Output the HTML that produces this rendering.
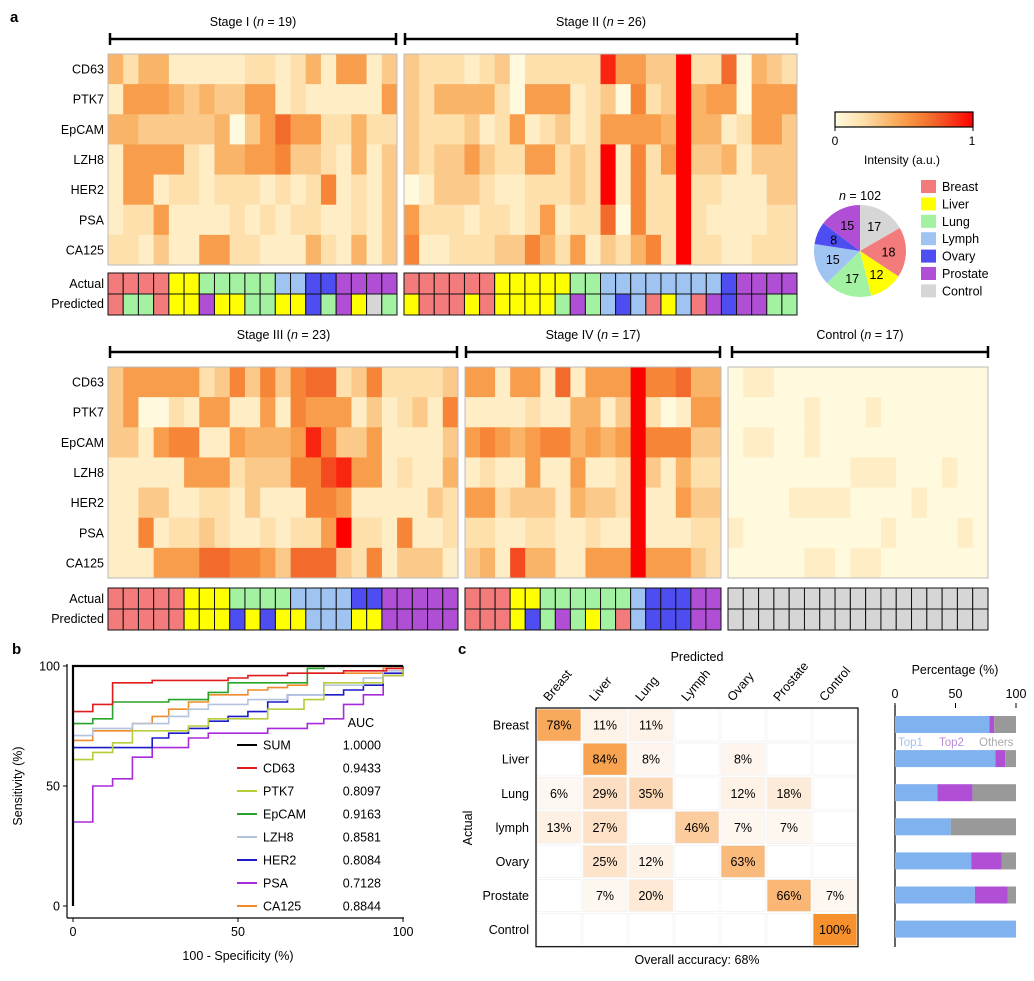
<!DOCTYPE html>
<html><head><meta charset="utf-8"><style>
body{margin:0;background:#fff}
svg{display:block;font-family:"Liberation Sans",Arial,sans-serif}
</style></head><body>
<svg id="fig" width="1034" height="981" viewBox="0 0 1034 981" xmlns="http://www.w3.org/2000/svg">
<text x="10" y="22" font-size="15" font-weight="bold">a</text>
<text x="12" y="654" font-size="15" font-weight="bold">b</text>
<text x="458" y="654" font-size="15" font-weight="bold">c</text>
<g id="gA"></g><g id="gB"></g><g id="gC"></g>
</svg>
<script>
// ---------- Panel a data ----------
const markers = ["CD63","PTK7","EpCAM","LZH8","HER2","PSA","CA125"];
const stage1 = [
[4,2,4,4,1,1,1,1,1,2,2,1,2,4,1,5,5,1,3],
[1,5,5,5,4,3,4,3,3,5,5,1,2,1,1,1,1,1,5],
[4,4,3,3,3,3,3,4,0,3,5,7,5,5,2,2,4,2,2],
[1,5,5,5,5,2,1,4,4,5,5,6,3,3,2,1,4,1,3],
[1,5,5,1,2,2,1,2,2,2,1,2,1,2,6,1,2,1,3],
[1,2,2,5,1,1,1,1,2,1,2,1,2,2,1,1,2,1,3],
[2,2,1,3,1,1,5,5,2,2,1,1,1,4,2,1,4,1,3]];
const stage2 = [
[3,2,2,2,1,2,3,0,2,2,2,2,2,9,5,5,3,3,10,2,2,7,0,4,3,2],
[3,2,4,4,4,4,2,0,5,5,5,1,2,3,0,6,2,3,10,4,5,5,0,5,5,5],
[3,2,2,2,3,1,2,5,1,2,3,1,2,5,5,5,5,4,10,4,4,1,2,5,5,3],
[3,2,3,3,5,3,2,2,5,5,2,3,2,10,1,6,2,5,10,3,3,4,1,3,3,3],
[0,1,3,3,3,2,1,1,2,2,2,3,2,10,1,6,2,2,10,2,2,1,1,1,3,3],
[5,2,2,2,1,2,2,1,2,5,1,2,2,7,0,6,2,2,10,2,1,1,1,1,2,2],
[6,1,1,2,2,2,3,3,6,4,2,5,1,3,2,4,6,2,10,2,2,1,1,2,2,2]];
const stage3 = [
[3,5,5,5,5,5,2,3,6,3,6,3,6,7,7,2,3,6,2,2,2,2,3],
[3,5,0,0,2,1,5,5,1,1,5,1,6,5,5,5,1,3,1,2,3,1,6],
[3,3,1,5,6,6,1,1,5,4,4,4,5,9,6,3,3,5,1,1,1,1,3],
[1,1,1,1,1,5,5,5,2,3,3,3,6,6,8,9,5,5,1,2,1,1,4],
[1,1,3,3,1,1,2,2,1,3,1,1,1,6,6,5,1,1,1,1,1,3,2],
[1,1,6,1,2,2,3,2,1,1,2,1,2,2,5,10,2,2,1,6,1,1,2],
[1,1,1,5,5,5,7,7,6,6,5,3,7,7,7,3,2,6,1,3,3,3,1]];
const stage4 = [
[5,5,1,5,5,1,7,1,5,5,5,10,6,6,7,4,4],
[1,1,1,1,2,1,1,4,4,1,3,10,2,0,1,5,5],
[5,6,5,4,5,6,6,4,5,4,5,10,6,6,6,3,3],
[1,2,1,1,5,1,1,5,1,1,2,10,3,1,4,2,2],
[5,5,2,3,3,3,1,4,3,3,2,10,1,1,5,3,3],
[2,2,1,1,2,2,1,1,2,1,1,10,1,1,1,2,2],
[3,4,1,8,4,4,1,1,5,5,5,10,5,5,5,3,2]];
const control = [
[0,1,1,0,0,0,0,0,0,0,0,0,0,0,0,0,0],
[0,0,0,0,0,1,0,0,0,1,0,0,0,0,0,0,0],
[0,1,1,0,0,1,0,0,0,0,0,0,0,0,0,0,0],
[0,0,0,0,0,0,0,0,1,1,1,0,0,0,1,0,0],
[0,0,0,0,1,1,1,1,0,0,0,0,1,0,0,0,0],
[1,0,0,0,0,0,0,0,0,0,1,0,0,0,0,1,0],
[0,0,0,0,0,1,1,0,1,1,0,0,0,0,0,0,0]];
const actual1 = "BBBBVVLLLLLYYOOPPPP", pred1 = "BLLBVVPVVLLVVOLPVCL";
const actual2 = "BBBBBBVVVVVLLYYYYYYYYOPPPP", pred2 = "VBBBVBVVVVLPLYOYBVYBPOPPLL";
const actual3 = "BBBBBVVVLLLLYYYYOOPPPPP", pred3 = "BBBBBVVVOVOVVYYYVVPPPPP";
const actual4 = "BBBVVLLLLLLYOOOPP", pred4 = "BBBVOLPLVLBYOOOPP";
const actualC = "CCCCCCCCCCCCCCCCC", predC = "CCCCCCCCCCCCCCCCC";
const classNames = ["Breast","Liver","Lung","Lymph","Ovary","Prostate","Control"];
const classCodes = ["B","V","L","Y","O","P","C"];
const classColors = ["#f37b7b","#ffff00","#a2f2a2","#a0c4f2","#4d4df2","#b04fd6","#d6d6d6"];
const pieCounts = [17,18,12,17,15,8,15];
const pieOrder = [6,0,1,2,3,4,5];
// ---------- Panel b data ----------
const rocNames = ["SUM","CD63","PTK7","EpCAM","LZH8","HER2","PSA","CA125"];
const rocAUC = ["1.0000","0.9433","0.8097","0.9163","0.8581","0.8084","0.7128","0.8844"];
const rocColors = ["#000000","#e01b1b","#b7cc3a","#2aa32a","#b3c3dc","#1b1bc8","#a72bdc","#f08a2a"];
const rocFPR = [
[0,0,100],
[0,6,12,24,47,53,65,82,95,100],
[0,6,12,18,35,41,59,70,76,94,100],
[0,6,12,29,41,47,71,76,100],
[0,6,18,29,35,41,53,65,76,88,94,100],
[0,24,29,35,41,47,53,59,65,82,88,94,100],
[0,6,12,18,24,35,41,59,71,76,82,88,94,100],
[0,6,18,24,29,35,41,53,59,65,71,94,100]];
const rocTPR = [
[0,100,100],
[81,84,93,94,95,96,97,98,99,100],
[61,64,68,73,75,78,82,86,93,96,100],
[76,78,85,86,89,93,99,100,100],
[71,74,76,79,82,84,86,88,92,95,98,100],
[66,70,72,74,77,79,81,85,88,90,92,97,100],
[35,50,53,62,66,70,72,74,76,78,84,88,96,100],
[69,73,76,79,82,85,88,90,91,92,97,99,100]];
const rocTicks = [0,50,100];
// ---------- Panel c data ----------
const cmRows = ["Breast","Liver","Lung","lymph","Ovary","Prostate","Control"];
const cmCols = ["Breast","Liver","Lung","Lymph","Ovary","Prostate","Control"];
const cmValues = [
[78,11,11,0,0,0,0],
[0,84,8,0,8,0,0],
[6,29,35,0,12,18,0],
[13,27,0,46,7,7,0],
[0,25,12,0,63,0,0],
[0,7,20,0,0,66,7],
[0,0,0,0,0,0,100]];
const top1 = [78,83,35,46,63,66,100];
const top2 = [4,8,29,0,25,27,0];
const pctTicks = [0,50,100];

// ---------- helpers ----------
const NS = "http://www.w3.org/2000/svg";
function el(tag, attrs, parent, txt){
  const e = document.createElementNS(NS, tag);
  for (const k in attrs) e.setAttribute(k, attrs[k]);
  if (txt !== undefined) e.textContent = txt;
  parent.appendChild(e); return e;
}
const stops = [[0,[255,250,222]],[0.2,[253,224,172]],[0.4,[249,180,104]],[0.55,[247,146,60]],[0.75,[242,92,40]],[1,[255,0,0]]];
function heatColor(v){
  const t = Math.max(0, Math.min(1, v/10));
  for (let i=1;i<stops.length;i++){
    if (t <= stops[i][0]){
      const a = stops[i-1], b = stops[i], f = (t-a[0])/(b[0]-a[0]);
      const c = a[1].map((x,j)=>Math.round(x+(b[1][j]-x)*f));
      return `rgb(${c[0]},${c[1]},${c[2]})`;
    }
  }
  return "rgb(255,0,0)";
}
const gA = document.getElementById("gA");
function bracket(x1,x2,y,label){
  const g = el("g",{},gA);
  
  
  el("line",{x1:x1,x2:x2,y1:y,y2:y,stroke:"#000","stroke-width":2.5},g);
  el("line",{x1:x1,x2:x1,y1:y-6,y2:y+6,stroke:"#000","stroke-width":2.5},g);
  el("line",{x1:x2,x2:x2,y1:y-6,y2:y+6,stroke:"#000","stroke-width":2.5},g);
  const t = el("text",{x:(x1+x2)/2,y:y-13,"font-size":12.5,"text-anchor":"middle"},g);
  
  
  t.innerHTML = label;
}
function heat(x0,y0,w,h,data,name){
  const g = el("g",{},gA);
  
  
  const n = data[0].length, cw = w/n, rh = h/data.length;
  data.forEach((row,r)=>row.forEach((v,c)=>{
    const rc = el("rect",{x:x0+c*cw,y:y0+r*rh,width:cw+0.4,height:rh+0.4,fill:heatColor(v)},g);
    
    
  }));
  el("rect",{x:x0,y:y0,width:w,height:h,fill:"none",stroke:"#bbb","stroke-width":1},g);
}
function strip(x0,y0,w,h,seq,name){
  const g = el("g",{},gA);
  
  
  const cw = w/seq.length;
  [...seq].forEach((code,i)=>{
    const rc = el("rect",{x:x0+i*cw,y:y0,width:cw,height:h,fill:classColors[classCodes.indexOf(code)],stroke:"#111","stroke-width":1},g);
    
    
  });
}
function rowLabels(yTop,h){
  markers.forEach((m,i)=>{
    const t = el("text",{x:104,y:yTop+(i+0.5)*h/7+4.5,"font-size":12.5,"text-anchor":"end"},gA,m);
    
    
  });
}
// top block
bracket(110,396,39,'Stage I (<tspan font-style="italic">n</tspan> = 19)');
bracket(405,797,39,'Stage II (<tspan font-style="italic">n</tspan> = 26)');
heat(108,54,289,211,stage1,"heatmap-stage-1");
heat(404,54,393,211,stage2,"heatmap-stage-2");
rowLabels(54,211);
strip(108,273,289,21,actual1,"actual-stage-1");
strip(108,294,289,21,pred1,"predicted-stage-1");
strip(404,273,393,21,actual2,"actual-stage-2");
strip(404,294,393,21,pred2,"predicted-stage-2");
[["Actual",288],["Predicted",308],["Actual",603],["Predicted",623]].forEach(([s,y])=>{
  const t = el("text",{x:104,y:y,"font-size":12.5,"text-anchor":"end"},gA,s);
  
  
});
// bottom block
bracket(110,457,352,'Stage III (<tspan font-style="italic">n</tspan> = 23)');
bracket(466,720,352,'Stage IV (<tspan font-style="italic">n</tspan> = 17)');
bracket(732,988,352,'Control (<tspan font-style="italic">n</tspan> = 17)');
heat(108,367,350,211,stage3,"heatmap-stage-3");
heat(465,367,256,211,stage4,"heatmap-stage-4");
heat(728,367,260,211,control,"heatmap-control");
rowLabels(367,211);
strip(108,588,350,21,actual3,"actual-stage-3");
strip(108,609,350,21,pred3,"predicted-stage-3");
strip(465,588,256,21,actual4,"actual-stage-4");
strip(465,609,256,21,pred4,"predicted-stage-4");
strip(728,588,260,21,actualC,"actual-control");
strip(728,609,260,21,predC,"predicted-control");
// colorbar
(function(){
  const defs = el("defs",{},gA);
  const lg = el("linearGradient",{id:"cb",x1:0,x2:1,y1:0,y2:0},defs);
  for (let i=0;i<=10;i++) el("stop",{offset:(i*10)+"%","stop-color":heatColor(i)},lg);
  const r = el("rect",{x:835,y:112,width:138,height:15,fill:"url(#cb)",stroke:"#000","stroke-width":1.2},gA);
  
  
  el("line",{x1:835,x2:835,y1:127,y2:131,stroke:"#000"},gA);
  el("line",{x1:973,x2:973,y1:127,y2:131,stroke:"#000"},gA);
  let t = el("text",{x:835,y:145,"font-size":12,"text-anchor":"middle"},gA,"0");
  
  
  t = el("text",{x:972,y:145,"font-size":12,"text-anchor":"middle"},gA,"1");
  
  
  t = el("text",{x:902,y:164,"font-size":12,"text-anchor":"middle"},gA,"Intensity (a.u.)");
  
  
})();
// pie
(function(){
  const cx=860, cy=251, R=46;
  const total = pieCounts.reduce((a,b)=>a+b,0);
  let ang = -Math.PI/2;
  const t0 = el("text",{x:860,y:200,"font-size":12.5,"text-anchor":"middle"},gA);
  t0.innerHTML = '<tspan font-style="italic">n</tspan> = '+total;
  
  
  pieCounts.forEach((v,i)=>{
    const a2 = ang + v/total*2*Math.PI;
    const x1=cx+R*Math.cos(ang), y1=cy+R*Math.sin(ang), x2=cx+R*Math.cos(a2), y2=cy+R*Math.sin(a2);
    const p = el("path",{d:`M${cx},${cy}L${x1},${y1}A${R},${R} 0 ${a2-ang>Math.PI?1:0} 1 ${x2},${y2}Z`,fill:classColors[pieOrder[i]]},gA);
    
    
    const m=(ang+a2)/2;
    const t = el("text",{x:cx+R*0.62*Math.cos(m),y:cy+R*0.62*Math.sin(m)+4.5,"font-size":12.5,"text-anchor":"middle"},gA,v);
    
    
    ang = a2;
  });
})();
// legend
classNames.forEach((n,i)=>{
  const y = 180+i*17.4;
  const r = el("rect",{x:921,y:y,width:15,height:13,fill:classColors[i]},gA);
  
  
  const t = el("text",{x:942,y:y+11,"font-size":12.5},gA,n);
  
  
});

// ---------- Panel b ----------
const gB = document.getElementById("gB");
const sx = v => 73 + v*3.3, sy = v => 906 - v*2.4;
el("line",{x1:67,x2:67,y1:664,y2:918,stroke:"#000","stroke-width":1.2},gB);
el("line",{x1:67,x2:404,y1:918,y2:918,stroke:"#000","stroke-width":1.2},gB);
rocTicks.forEach(v=>{
  el("line",{x1:63,x2:67,y1:sy(v),y2:sy(v),stroke:"#000"},gB);
  let t = el("text",{x:60,y:sy(v)+4.5,"font-size":12.5,"text-anchor":"end"},gB,v);
  
  
  el("line",{x1:sx(v),x2:sx(v),y1:918,y2:922,stroke:"#000"},gB);
  t = el("text",{x:sx(v),y:936,"font-size":12.5,"text-anchor":"middle"},gB,v);
  
  
});
let tt = el("text",{x:238,y:960,"font-size":12.5,"text-anchor":"middle"},gB,"100 - Specificity (%)");


tt = el("text",{x:0,y:0,"font-size":12.5,"text-anchor":"middle",transform:"translate(22,786) rotate(-90)"},gB,"Sensitivity (%)");


for (let k=rocNames.length-1;k>=0;k--){
  const xs = rocFPR[k], ys = rocTPR[k];
  let d = `M${sx(xs[0])},${sy(ys[0])}`;
  for (let i=1;i<xs.length;i++) d += `H${sx(xs[i])}V${sy(ys[i])}`;
  const p = el("path",{d:d,fill:"none",stroke:rocColors[k],"stroke-width":k===0?2.2:1.6},gB);
  
  
}
tt = el("text",{x:361,y:727,"font-size":12.5,"text-anchor":"middle"},gB,"AUC");


rocNames.forEach((n,i)=>{
  const y = 745+i*23;
  el("line",{x1:237,x2:257,y1:y,y2:y,stroke:rocColors[i],"stroke-width":2},gB);
  let t = el("text",{x:263,y:y+4.5,"font-size":12.5},gB,n);
  
  
  t = el("text",{x:381,y:y+4.5,"font-size":12.5,"text-anchor":"end"},gB,rocAUC[i]);
  
  
});

// ---------- Panel c ----------
const gC = document.getElementById("gC");
const mx0=536, my0=708, cw=46, ch=34.1;
function cmColor(v){
  const t=v/100; return `rgb(${Math.round(255-(255-246)*t)},${Math.round(255-(255-145)*t)},${Math.round(255-(255-45)*t)})`;
}
cmValues.forEach((row,r)=>row.forEach((v,c)=>{
  const rc = el("rect",{x:mx0+c*cw+1,y:my0+r*ch+1,width:cw-2,height:ch-2,fill:cmColor(v),stroke:"#f2f2f2","stroke-width":0.8},gC);
  
  
  if (v>0){
    const t = el("text",{x:mx0+(c+0.5)*cw,y:my0+(r+0.5)*ch+4.5,"font-size":12.5,"text-anchor":"middle"},gC,v+"%");
    
    
  }
}));
el("rect",{x:mx0,y:my0,width:cw*7,height:ch*7,fill:"none",stroke:"#000","stroke-width":1.2},gC);
cmRows.forEach((n,r)=>{
  const t = el("text",{x:529,y:my0+(r+0.5)*ch+4.5,"font-size":12.5,"text-anchor":"end"},gC,n);
  
  
});
cmCols.forEach((n,c)=>{
  const x = mx0+(c+0.5)*cw-10, y=my0-6;
  const t = el("text",{x:0,y:0,"font-size":12.5,transform:`translate(${x},${y}) rotate(-50)`},gC,n);
  
  
});
tt = el("text",{x:697,y:661,"font-size":12.5,"text-anchor":"middle"},gC,"Predicted");


tt = el("text",{x:0,y:0,"font-size":12.5,"text-anchor":"middle",transform:"translate(472,828) rotate(-90)"},gC,"Actual");


tt = el("text",{x:697,y:964,"font-size":12.5,"text-anchor":"middle"},gC,"Overall accuracy: 68%");


// percentage bars
const px = v => 895 + v*1.21;
el("line",{x1:895,x2:895,y1:705,y2:947,stroke:"#000","stroke-width":1.2},gC);
pctTicks.forEach(v=>{
  el("line",{x1:px(v),x2:px(v),y1:703,y2:708,stroke:"#000"},gC);
  const t = el("text",{x:px(v),y:698,"font-size":12.5,"text-anchor":"middle"},gC,v);
  
  
});
tt = el("text",{x:955,y:674,"font-size":12.5,"text-anchor":"middle"},gC,"Percentage (%)");


top1.forEach((v,r)=>{
  const y = my0+8+r*ch, h=17;
  const a = el("rect",{x:px(0),y:y,width:px(v)-px(0),height:h,fill:"#7fb2ef"},gC);
  
  
  const b = el("rect",{x:px(v),y:y,width:px(v+top2[r])-px(v),height:h,fill:"#b04fd6"},gC);
  
  
  const o = el("rect",{x:px(v+top2[r]),y:y,width:px(100)-px(v+top2[r]),height:h,fill:"#999"},gC);
  
  
});
[["Top1",898,"#9ec3ee"],["Top2",939,"#b98ccf"],["Others",979,"#aaa"]].forEach(([s,x,c])=>{
  const t = el("text",{x:x,y:746,"font-size":11.5,fill:c},gC,s);
  
  
});
</script>
</body></html>
